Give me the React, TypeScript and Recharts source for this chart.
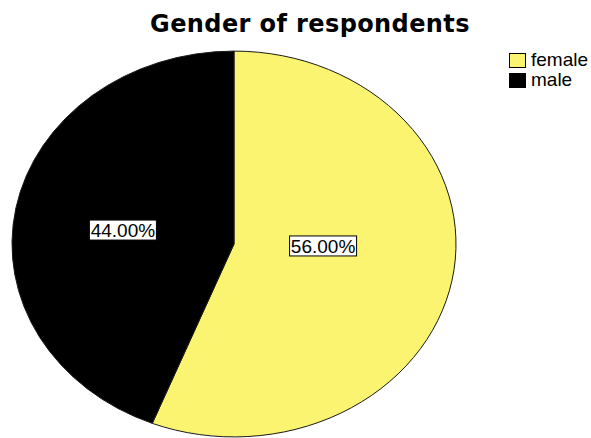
import React from "react"
import { Legend, Pie, PieChart } from "recharts"

const categories = ["female", "male"]
const percentages = [56, 44]
const colors = ["#FAF470", "#000000"]

const data = categories.map((name, i) => ({ name, value: percentages[i], fill: colors[i] }))

const RAD = Math.PI / 180
const SQUASH = 0.869
const ARIAL = "Liberation Sans, Arial, sans-serif"

// elliptical sector: SPSS draws the pie stretched horizontally
const EllipseSector = (props: any) => {
  const { cx, cy, outerRadius, startAngle, endAngle, fill } = props
  const rx = outerRadius
  const ry = outerRadius * SQUASH
  const x0 = cx + rx * Math.cos(startAngle * RAD)
  const y0 = cy - ry * Math.sin(startAngle * RAD)
  const x1 = cx + rx * Math.cos(endAngle * RAD)
  const y1 = cy - ry * Math.sin(endAngle * RAD)
  const large = Math.abs(endAngle - startAngle) > 180 ? 1 : 0
  const sweep = endAngle < startAngle ? 1 : 0
  const d = `M ${cx} ${cy} L ${x0} ${y0} A ${rx} ${ry} 0 ${large} ${sweep} ${x1} ${y1} Z`
  return <path d={d} fill={fill} stroke="#1a1a1a" strokeWidth={1} />
}

const renderLabel = (props: any) => {
  const { cx, cy, outerRadius, midAngle, value } = props
  const x = cx - 11 + outerRadius * 0.459 * Math.cos(midAngle * RAD)
  const y = cy - 6 - outerRadius * SQUASH * 0.22 * Math.sin(midAngle * RAD)
  const text = `${value.toFixed(2)}%`
  const w = 67
  const h = 20
  return (
    <g>
      <rect x={x - w / 2} y={y - h / 2} width={w} height={h} fill="#ffffff" stroke="#000000" strokeWidth={1} />
      <text x={x} y={y + 7} textAnchor="middle" fontFamily={ARIAL} fontSize={19} fill="#000000">
        {text}
      </text>
    </g>
  )
}

const LegendBox = () => (
  <div style={{ fontFamily: ARIAL, fontSize: 19, color: "#000", lineHeight: "20px" }}>
    {data.map((d) => (
      <div key={d.name} style={{ display: "flex", alignItems: "center", height: 20 }}>
        <span
          style={{
            display: "inline-block",
            width: 15,
            height: 13,
            background: d.fill,
            border: "1px solid #000",
            marginRight: 5,
          }}
        />
        {d.name}
      </div>
    ))}
  </div>
)

export default function App() {
  return (
    <div style={{ position: "absolute", left: 0, top: 0, width: 591, height: 438, background: "#fff" }}>
      <PieChart width={591} height={438} margin={{ top: 0, right: 0, bottom: 0, left: 0 }} style={{ position: "absolute", left: 0, top: 0 }}>
        <Legend
          layout="vertical"
          align="right"
          verticalAlign="top"
          content={<LegendBox />}
          wrapperStyle={{ left: 509, top: 50, width: 82 }}
        />
        <Pie
          data={data}
          dataKey="value"
          nameKey="name"
          cx={234}
          cy={244}
          outerRadius={222}
          startAngle={90}
          endAngle={-270}
          stroke="#1a1a1a"
          shape={EllipseSector}
          label={renderLabel}
          labelLine={false}
          isAnimationActive={false}
        />
      </PieChart>
      <svg width={591} height={40} style={{ position: "absolute", left: 0, top: 0 }}>
        <text
          x={310}
          y={32}
          textAnchor="middle"
          fontFamily="DejaVu Sans, Verdana, sans-serif"
          fontWeight="bold"
          fontSize={24}
          letterSpacing={0.4}
          fill="#000"
        >
          Gender of respondents
        </text>
      </svg>
    </div>
  )
}
